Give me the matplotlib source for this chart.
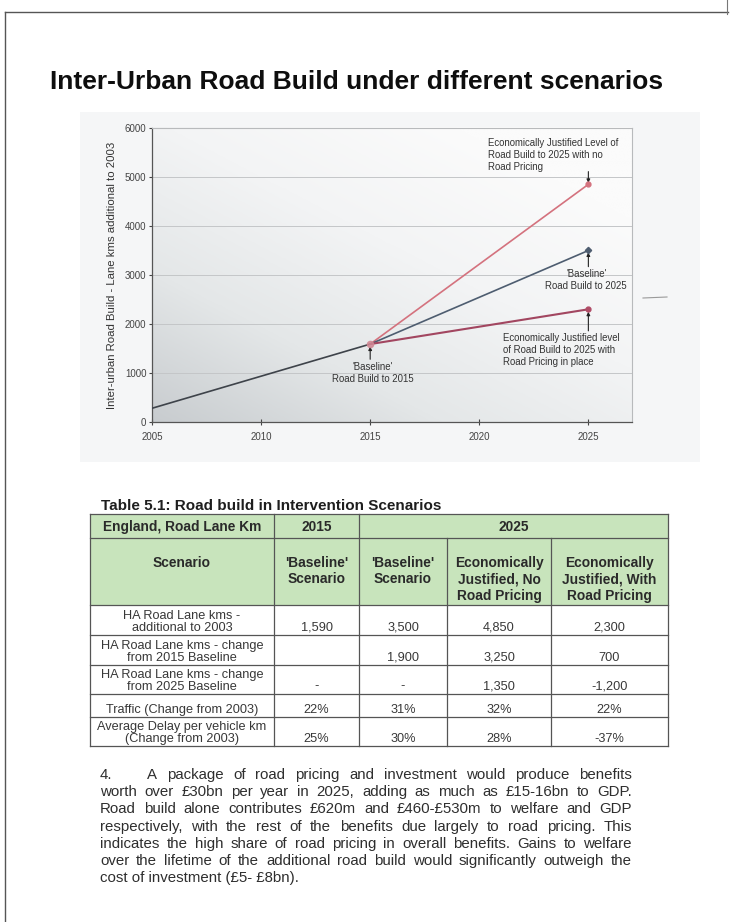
import matplotlib
matplotlib.use("Agg")
import matplotlib.pyplot as plt
import numpy as np
from matplotlib.colors import LinearSegmentedColormap
from matplotlib.patches import Rectangle

plt.rcParams["font.family"] = ["Liberation Sans", "DejaVu Sans"]

W, H = 733, 922

# ---------------- chart data ----------------
title = "Inter-Urban Road Build under different scenarios"
y_label = "Inter-urban Road Build - Lane kms additional to 2003"
years_to_2015 = [2005, 2015]
build_to_2015 = [280, 1590]
years_to_2025 = [2015, 2025]
baseline_2025 = [1590, 3500]
no_pricing_2025 = [1590, 4850]
with_pricing_2025 = [1590, 2300]
x_ticks = [2005, 2010, 2015, 2020, 2025]
y_ticks = [0, 1000, 2000, 3000, 4000, 5000, 6000]

note_no_pricing = "Economically Justified Level of\nRoad Build to 2025 with no\nRoad Pricing"
note_baseline_2025 = "'Baseline'\nRoad Build to 2025"
note_with_pricing = "Economically Justified level\nof Road Build to 2025 with\nRoad Pricing in place"
note_baseline_2015 = "'Baseline'\nRoad Build to 2015"

# ---------------- table data ----------------
table_title = "Table 5.1: Road build in Intervention Scenarios"
header_years = ["England, Road Lane Km", "2015", "2025"]
header_scenarios = ["Scenario", "'Baseline'\nScenario", "'Baseline'\nScenario",
                    "Economically\nJustified, No\nRoad Pricing",
                    "Economically\nJustified, With\nRoad Pricing"]
row_labels = ["HA Road Lane kms -\nadditional to 2003",
              "HA Road Lane kms - change\nfrom 2015 Baseline",
              "HA Road Lane kms - change\nfrom 2025 Baseline",
              "Traffic (Change from 2003)",
              "Average Delay per vehicle km\n(Change from 2003)"]
col_2015_baseline = ["1,590", "", "-", "22%", "25%"]
col_2025_baseline = ["3,500", "1,900", "-", "31%", "30%"]
col_2025_no_pricing = ["4,850", "3,250", "1,350", "32%", "28%"]
col_2025_with_pricing = ["2,300", "700", "-1,200", "22%", "-37%"]

paragraph_lines = [
    "A package of road pricing and investment would produce benefits",
    "worth over £30bn per year in 2025, adding as much as £15-16bn to GDP.",
    "Road build alone contributes £620m and £460-£530m to welfare and GDP",
    "respectively, with the rest of the benefits due largely to road pricing.  This",
    "indicates the high share of road pricing in overall benefits.  Gains to welfare",
    "over the lifetime of the additional road build would significantly outweigh the",
    "cost of investment (£5- £8bn).",
]

fig = plt.figure(figsize=(W / 100, H / 100), dpi=100)
fig.patch.set_facecolor("white")

# page layer in pixel units
page = fig.add_axes([0, 0, 1, 1])
page.set_xlim(0, W)
page.set_ylim(H, 0)
page.axis("off")

# page frame
page.plot([5, 728], [12, 12], color="#555555", lw=1.0)
page.plot([5, 5], [12, H], color="#555555", lw=1.0)
page.plot([727, 727], [0, 14], color="#777777", lw=0.8)
page.plot([643, 667], [298, 297], color="#9a9a9a", lw=0.8)

page.text(50, 89, title, fontsize=19, fontweight="bold", color="#0e0e0e",
          ha="left", va="baseline")

# chart panel and plot-area shading
page.add_patch(Rectangle((80, 112), 620, 350, facecolor="#f5f6f7", edgecolor="none", zorder=0))
L, R, T, B = 152, 632, 128, 422
gx, gy = np.meshgrid(np.linspace(0, 1, 300), np.linspace(0, 1, 300))
shade = np.clip(0.55 * gx + 0.65 * gy, 0, 1)
cmap = LinearSegmentedColormap.from_list("panel", ["#c8cccf", "#e4e7e8", "#f3f4f5", "#fbfbfb"])
page.imshow(shade, cmap=cmap, extent=[L, R, B, T], origin="lower", aspect="auto",
            interpolation="bilinear", zorder=1)
page.set_xlim(0, W)
page.set_ylim(H, 0)

ax = fig.add_axes([L / W, 1 - B / H, (R - L) / W, (B - T) / H])
ax.set_facecolor("none")
ax.set_xlim(2005, 2027)
ax.set_ylim(0, 6000)
ax.set_xticks(x_ticks)
ax.set_yticks(y_ticks)
ax.tick_params(axis="both", labelsize=7, colors="#444444", labelcolor="#444444")
ax.tick_params(axis="y", length=2.5, width=0.8, pad=1.5)
ax.tick_params(axis="x", length=4, width=0.8, direction="inout", pad=5)
ax.grid(axis="y", color="#c4c6c8", lw=0.7)
ax.set_axisbelow(True)
for side in ("left", "bottom"):
    ax.spines[side].set_color("#555555")
    ax.spines[side].set_linewidth(0.9)
for side in ("top", "right"):
    ax.spines[side].set_color("#b8babc")
    ax.spines[side].set_linewidth(0.8)
ax.set_ylabel(y_label, fontsize=8.2, color="#333333")
ax.yaxis.set_label_coords(-0.072, 0.5)

ax.plot(years_to_2015, build_to_2015, color="#3e434a", lw=1.2, zorder=3)
ax.plot(years_to_2025, no_pricing_2025, color="#d4727e", lw=1.2, zorder=3)
ax.plot(years_to_2025, baseline_2025, color="#4e5d70", lw=1.2, zorder=3)
ax.plot(years_to_2025, with_pricing_2025, color="#a24660", lw=1.5, zorder=3)
ax.plot(years_to_2025[-1], no_pricing_2025[-1], "o", ms=3.5, color="#d4727e", zorder=4)
ax.plot(years_to_2025[-1], baseline_2025[-1], "D", ms=3.2, color="#4e5d70", zorder=4)
ax.plot(years_to_2025[-1], with_pricing_2025[-1], "o", ms=3.5, color="#b04c66", zorder=4)
ax.plot(years_to_2015[-1], build_to_2015[-1], "o", ms=4.5, color="#d08894", alpha=0.85, zorder=4)

arrow = dict(arrowstyle="-|>", color="#222222", lw=0.8, mutation_scale=5, shrinkA=0, shrinkB=0)
note_kw = dict(fontsize=6.9, color="#333333", linespacing=1.25)
ax.annotate("", xy=(2025, no_pricing_2025[-1] + 30), xytext=(2025, 5110), arrowprops=arrow)
ax.text(2020.4, 5800, note_no_pricing, ha="left", va="top", **note_kw)
ax.annotate("", xy=(2025, baseline_2025[-1] - 40), xytext=(2025, 3170), arrowprops=arrow)
ax.text(2024.9, 3130, note_baseline_2025, ha="center", va="top", multialignment="center", **note_kw)
ax.annotate("", xy=(2025, with_pricing_2025[-1] - 50), xytext=(2025, 1860), arrowprops=arrow)
ax.text(2021.1, 1810, note_with_pricing, ha="left", va="top", **note_kw)
ax.annotate("", xy=(2015, build_to_2015[-1] - 50), xytext=(2015, 1280), arrowprops=arrow)
ax.text(2015.1, 1230, note_baseline_2015, ha="center", va="top", multialignment="center", **note_kw)

# ---------------- table ----------------
cols_x = [90, 274, 359, 447, 551, 668]
rows_y = [514, 538, 605, 635, 665, 694, 717, 746]
green = "#c8e4bc"
line_c = "#555555"

page.text(101, 510, table_title, fontsize=11, fontweight="bold", color="#1e1e1e",
          ha="left", va="baseline")
page.add_patch(Rectangle((cols_x[0], rows_y[0]), cols_x[-1] - cols_x[0], rows_y[2] - rows_y[0],
                         facecolor=green, edgecolor="none", zorder=1))
for y in rows_y:
    page.plot([cols_x[0], cols_x[-1]], [y, y], color=line_c, lw=0.9, zorder=3)
for x in (cols_x[0], cols_x[1], cols_x[2], cols_x[-1]):
    page.plot([x, x], [rows_y[0], rows_y[-1]], color=line_c, lw=0.9, zorder=3)
for x in (cols_x[3], cols_x[4]):
    page.plot([x, x], [rows_y[1], rows_y[-1]], color=line_c, lw=0.9, zorder=3)

centers = [(cols_x[i] + cols_x[i + 1]) / 2 for i in range(5)]
hdr_kw = dict(fontsize=9.9, fontweight="bold", color="#2a2a2a", zorder=4)
y_hdr1 = (rows_y[0] + rows_y[1]) / 2 + 1
page.text(centers[0], y_hdr1, header_years[0], ha="center", va="center", **hdr_kw)
page.text(centers[1], y_hdr1, header_years[1], ha="center", va="center", **hdr_kw)
page.text((cols_x[2] + cols_x[-1]) / 2, y_hdr1, header_years[2], ha="center", va="center", **hdr_kw)
for cx, label in zip(centers, header_scenarios):
    page.text(cx, 556, label, ha="center", va="top", multialignment="center",
              linespacing=1.22, **hdr_kw)

body_kw = dict(fontsize=9.2, color="#383838", zorder=4)
value_cols = [col_2015_baseline, col_2025_baseline, col_2025_no_pricing, col_2025_with_pricing]
for r, label in enumerate(row_labels):
    base = rows_y[r + 3] - 4.5
    page.text(centers[0], base, label, ha="center", va="baseline", multialignment="center",
              linespacing=1.0, **body_kw)
    for c, col in enumerate(value_cols):
        if col[r]:
            page.text(centers[c + 1], base, col[r], ha="center", va="baseline", **body_kw)

# ---------------- paragraph ----------------
renderer = fig.canvas.get_renderer()
para_kw = dict(fontsize=10.8, color="#2e2e2e", va="baseline", ha="left")
left, right = 100, 632
baselines = [779 + 17.2 * i for i in range(len(paragraph_lines))]
page.text(left, baselines[0], "4.", **para_kw)


def justify(words, x0, x1, y):
    items = [page.text(0, y, w, **para_kw) for w in words]
    widths = [t.get_window_extent(renderer).width for t in items]
    gap = (x1 - x0 - sum(widths)) / max(len(words) - 1, 1)
    x = x0
    for t, w in zip(items, widths):
        t.set_x(x)
        x += w + gap


for i, line in enumerate(paragraph_lines):
    start = 147 if i == 0 else left
    if i < len(paragraph_lines) - 1:
        justify(line.split(), start, right, baselines[i])
    else:
        page.text(start, baselines[i], line, **para_kw)

fig.savefig("out.png", dpi=100)
